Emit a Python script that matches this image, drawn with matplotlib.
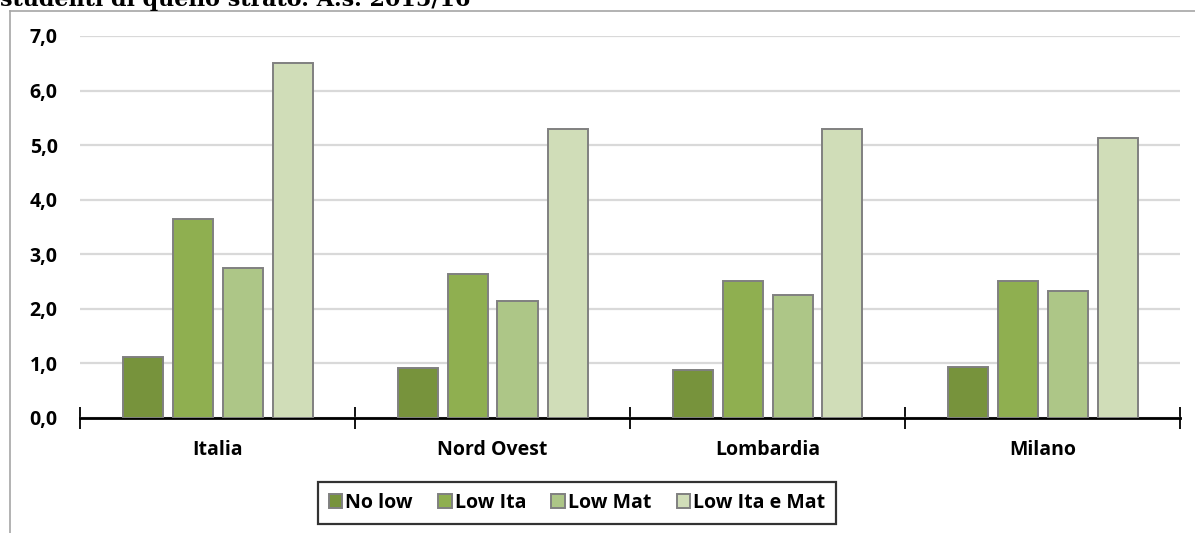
import matplotlib.pyplot as plt
import numpy as np
from matplotlib.lines import Line2D

plt.rcParams['font.family'] = ['Open Sans', 'DejaVu Sans']

categories = ['Italia', 'Nord Ovest', 'Lombardia', 'Milano']
series = ['No low', 'Low Ita', 'Low Mat', 'Low Ita e Mat']
no_low = [1.12, 0.92, 0.88, 0.93]
low_ita = [3.64, 2.63, 2.51, 2.51]
low_mat = [2.75, 2.15, 2.25, 2.33]
low_ita_mat = [6.51, 5.30, 5.29, 5.13]
values = [no_low, low_ita, low_mat, low_ita_mat]
colors = ['#77933C', '#8FAF50', '#ADC687', '#D0DDB8']
yticks = [0, 1, 2, 3, 4, 5, 6, 7]

fig = plt.figure(figsize=(11.95, 5.33), dpi=100)
ax = fig.add_axes([80 / 1195, 1 - 418 / 533, 1100 / 1195, 382 / 533])

x = np.arange(len(categories))
w = 40 / 275
step = 50 / 275
for i, (name, vals) in enumerate(zip(series, values)):
    ax.bar(x + (i - 1.5) * step, vals, width=w, color=colors[i],
           edgecolor='#808080', linewidth=1.4, label=name, zorder=3)

ax.set_xlim(-0.5, len(categories) - 0.5)
ax.set_ylim(0, 7)
ax.set_yticks(yticks)
ax.set_yticklabels([f'{t:.1f}'.replace('.', ',') for t in yticks],
                   fontsize=14, fontweight='bold')
ax.tick_params(axis='y', length=0, pad=16)
ax.yaxis.grid(True, color='#D9D9D9', linewidth=1.6, zorder=0)

# category boundary ticks
ax.set_xticks(np.arange(-0.5, len(categories)), minor=False)
ax.set_xticklabels([])
ax.set_xticks(x, minor=True)
ax.set_xticklabels(categories, minor=True, fontsize=14, fontweight='bold')
ax.tick_params(axis='x', which='major', direction='inout', length=16,
               width=1.3, color='black')
ax.tick_params(axis='x', which='minor', length=0, pad=16)

for s in ['top', 'right', 'left']:
    ax.spines[s].set_visible(False)
ax.spines['bottom'].set_linewidth(2)
ax.spines['bottom'].set_color('black')

leg = ax.legend(loc='center', bbox_to_anchor=(577 / 1195, 1 - 503 / 533),
                bbox_transform=fig.transFigure, ncol=4, frameon=True,
                fancybox=False, edgecolor='black', handlelength=0.7,
                handleheight=0.7, handletextpad=0.15, columnspacing=1.3,
                prop={'weight': 'bold', 'size': 14}, borderpad=0.55,
                borderaxespad=0)
leg.get_frame().set_linewidth(1.6)
for p in leg.get_patches():
    p.set_edgecolor('#808080')

# outer chart frame (cropped)
fig.add_artist(Line2D([10 / 1195, 10 / 1195], [0, 1 - 11 / 533],
                      color='#A6A6A6', linewidth=1.2))
fig.add_artist(Line2D([10 / 1195, 1], [1 - 11 / 533, 1 - 11 / 533],
                      color='#A6A6A6', linewidth=1.2))

# cropped title line
fig.text(0, 1 - 6 / 533, 'studenti di quello strato. A.s. 2015/16',
         family='DejaVu Serif', fontweight='bold', fontsize=16, va='baseline')

fig.savefig('out.png', dpi=100)
